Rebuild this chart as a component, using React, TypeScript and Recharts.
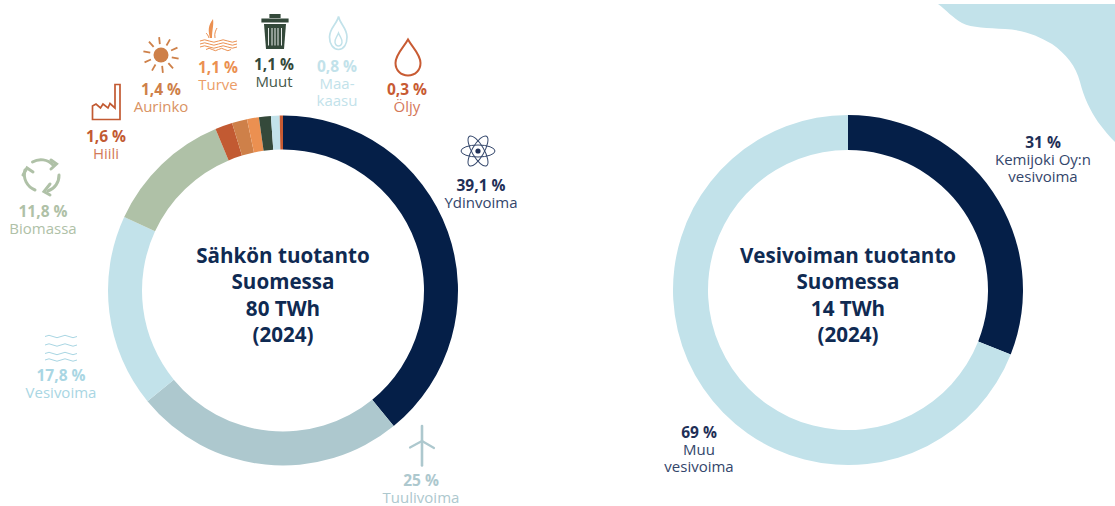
import React from "react";
import { PieChart, Pie, Cell } from "recharts";

const W = 1115;
const H = 506;
const FONT = "'Open Sans', 'Noto Sans', sans-serif";

// Electricity production
const prodNames = ["Ydinvoima", "Tuulivoima", "Vesivoima", "Biomassa", "Hiili", "Aurinko", "Turve", "Muut", "Maakaasu", "Öljy"];
const prodValues = [39.1, 25, 17.8, 11.8, 1.6, 1.4, 1.1, 1.1, 0.8, 0.3];
const prodPercents = ["39,1 %", "25 %", "17,8 %", "11,8 %", "1,6 %", "1,4 %", "1,1 %", "1,1 %", "0,8 %", "0,3 %"];
const prodColors = ["#051F48", "#ADC8CE", "#C2E2EA", "#AFC1A7", "#C25A32", "#CE8049", "#EB9051", "#34493A", "#C2E2EA", "#C85B33"];

// Hydro production
const hydroNames = ["Kemijoki Oy:n vesivoima", "Muu vesivoima"];
const hydroValues = [31, 69];
const hydroColors = ["#051F48", "#C2E2EA"];

const prodData = prodNames.map((name, i) => ({ name, value: prodValues[i] }));
const hydroData = hydroNames.map((name, i) => ({ name, value: hydroValues[i] }));

const titleLeft = ["Sähkön tuotanto", "Suomessa", "80 TWh", "(2024)"];
const titleRight = ["Vesivoiman tuotanto", "Suomessa", "14 TWh", "(2024)"];

const NAVY = "#1F3057";

type L = { x: number; y: number; pct: string; lines: string[]; pc: string; tc: string };
const labels: L[] = [
  { x: 481, y: 191, pct: prodPercents[0], lines: ["Ydinvoima"], pc: NAVY, tc: "#33466B" },
  { x: 421, y: 486, pct: prodPercents[1], lines: ["Tuulivoima"], pc: "#ADC8CE", tc: "#ADC8CE" },
  { x: 61, y: 381, pct: prodPercents[2], lines: ["Vesivoima"], pc: "#A9D6E3", tc: "#A9D6E3" },
  { x: 43, y: 217, pct: prodPercents[3], lines: ["Biomassa"], pc: "#AFC1A7", tc: "#AFC1A7" },
  { x: 106, y: 142, pct: prodPercents[4], lines: ["Hiili"], pc: "#C25A32", tc: "#D27A58" },
  { x: 161, y: 95, pct: prodPercents[5], lines: ["Aurinko"], pc: "#CE8049", tc: "#D99263" },
  { x: 218, y: 73, pct: prodPercents[6], lines: ["Turve"], pc: "#EB9051", tc: "#EB9D68" },
  { x: 274, y: 70, pct: prodPercents[7], lines: ["Muut"], pc: "#34493A", tc: "#45594B" },
  { x: 337, y: 72, pct: prodPercents[8], lines: ["Maa-", "kaasu"], pc: "#C2E2EA", tc: "#C2E2EA" },
  { x: 407, y: 95, pct: prodPercents[9], lines: ["Öljy"], pc: "#C85B33", tc: "#D4785A" },
  { x: 1043, y: 148, pct: "31 %", lines: ["Kemijoki Oy:n", "vesivoima"], pc: NAVY, tc: "#33466B" },
  { x: 699, y: 438, pct: "69 %", lines: ["Muu", "vesivoima"], pc: NAVY, tc: "#33466B" },
];

const Label = ({ x, y, pct, lines, pc, tc }: L) => (
  <g textAnchor="middle" fontFamily={FONT}>
    <text x={x} y={y} fontSize={15.5} fontWeight={700} fill={pc}>{pct}</text>
    {lines.map((t, i) => (
      <text key={i} x={x} y={y + 16.5 + i * 17} fontSize={15} fill={tc}>{t}</text>
    ))}
  </g>
);

const Title = ({ cx, lines }: { cx: number; lines: string[] }) => (
  <g textAnchor="middle" fontFamily={FONT} fontSize={20.6} fontWeight={700} fill="#0F2A52">
    {lines.map((t, i) => (
      <text key={i} x={cx} y={263 + i * 26.3}>{t}</text>
    ))}
  </g>
);

const wave = (x: number, y: number, w: number) => {
  const s = w / 4;
  return `M${x},${y} q${s / 2},-2.4 ${s},0 t${s},0 t${s},0 t${s},0`;
};

const Icons = () => (
  <g fill="none">
    {/* factory */}
    <path d="M92.500,106 L92.500,119.500 L120,119.500 L120,84.500 L115,84.500 L115,108 L110,103.500 L108,108 L103,104 L100.500,108 L96,104 Z" stroke="#C25A32" strokeWidth={1.7} />
    {/* sun */}
    <circle cx={161} cy={55} r={7.5} fill="#CE8049" />
    {[0, 36, 72, 108, 144, 180, 216, 252, 288, 324].map((a) => (
      <line key={a} x1={161 + 11 * Math.cos(((a + 12) * Math.PI) / 180)} y1={55 + 11 * Math.sin(((a + 12) * Math.PI) / 180)} x2={161 + 18 * Math.cos(((a + 12) * Math.PI) / 180)} y2={55 + 18 * Math.sin(((a + 12) * Math.PI) / 180)} stroke="#CE8049" strokeWidth={1.8} />
    ))}
    {/* peat */}
    <path d="M210,38 C208,30 208,26 213,19 C214,25 212,30 212,38 Z" fill="#EB9051" />
    <path d="M215,38 C214,33 216,30 217,28 M209,38 C208,35 207,34 206,33" stroke="#EB9051" strokeWidth={1} />
    {[41, 44, 47, 49.5].map((y, i) => (
      <path key={y} d={wave(200 + (i === 3 ? 6 : 0), y, i === 3 ? 25 : 37)} stroke="#EB9051" strokeWidth={1} />
    ))}
    {/* trash */}
    <path d="M262,19 h26 v3 h-26 Z M270,18 v-3.500 h10 v3.500" fill="#34493A" stroke="#34493A" strokeWidth={1.2} />
    <path d="M264,24 h22 l-2,25 h-18 Z" fill="#34493A" />
    {[268.5, 272, 275, 278, 281.5].map((x) => (
      <line key={x} x1={x} y1={28} x2={x} y2={45.5} stroke="#FFFFFF" strokeWidth={0.9} />
    ))}
    {/* flame */}
    <path d="M338.500,16.500 C337,24 329.500,28 329.500,37 C329.500,44 333,49 338.500,49.500 C344,49 347,44 347,37 C347,28 340,24 338.500,16.500 Z" stroke="#C2E2EA" strokeWidth={1.7} />
    <path d="M338.500,33 C337,37 334.500,39 335,42.500 C335.500,45 337,46 338.500,46 C340,46 341.500,45 342,42.500 C342.500,39 340,37 338.500,33 Z" stroke="#C2E2EA" strokeWidth={1.4} />
    {/* drop */}
    <path d="M408,39.500 C404,47 395.500,54 395.500,63 C395.500,70.500 401,75.500 408,75.500 C415,75.500 420.500,70.500 420.500,63 C420.500,54 412,47 408,39.500 Z" stroke="#C85B33" strokeWidth={2} />
    {/* atom */}
    <g stroke="#33466B" strokeWidth={1}>
      <ellipse cx={478} cy={151} rx={17} ry={6} />
      <ellipse cx={478} cy={151} rx={17} ry={6} transform="rotate(60 478 151)" />
      <ellipse cx={478} cy={151} rx={17} ry={6} transform="rotate(-60 478 151)" />
    </g>
    <circle cx={478} cy={151} r={2.6} fill="#1F3057" />
    {/* recycle */}
    <g stroke="#AFC1A7" strokeWidth={3} strokeLinecap="round">
      <path d="M32.500,162 A16.500,16.500 0 0 1 53,165" />
      <path d="M59,175 A16.500,16.500 0 0 1 48,191" />
      <path d="M35,190 A16.500,16.500 0 0 1 25,170" />
      <path d="M51,160 L56.500,164 L51,169" />
      <path d="M50,184 L44,191.500 L50,195" />
      <path d="M23,175 L27,168 L33,172" />
    </g>
    {/* waves */}
    {[336.5, 345, 353.5, 360].map((y) => (
      <path key={y} d={wave(45, y, 32)} stroke="#A9D6E3" strokeWidth={1} />
    ))}
    {/* wind turbine */}
    <g stroke="#ADC8CE" strokeLinecap="round">
      <line x1={422} y1={426} x2={422} y2={465.5} strokeWidth={2.6} />
      <path d="M422,441 L410,447.500 M422,441 L434,448" strokeWidth={2.2} />
    </g>
  </g>
);

export default function App() {
  return (
    <div style={{ position: "absolute", left: 0, top: 0, width: W, height: H, background: "#FFFFFF", overflow: "hidden" }}>
      <svg width={W} height={H} style={{ position: "absolute", left: 0, top: 0 }}>
        <path d="M938,4 C946,10 953,18 962,23 C972,28 988,28 1005,29 C1025,30 1038,36 1052,44 C1066,54 1076,66 1080,82 C1084,98 1090,110 1098,122 C1104,130 1110,137 1115,142 L1115,4 Z" fill="#C2E2EA" />
      </svg>
      <div style={{ position: "absolute", left: 0, top: 0 }}>
        <PieChart width={W} height={H} margin={{ top: 0, right: 0, bottom: 0, left: 0 }}>
          <Pie data={prodData} dataKey="value" nameKey="name" cx={283} cy={290.5} innerRadius={141} outerRadius={175} startAngle={90} endAngle={-270} stroke="none" isAnimationActive={false}>
            {prodData.map((d, i) => <Cell key={d.name} fill={prodColors[i]} />)}
          </Pie>
          <Pie data={hydroData} dataKey="value" nameKey="name" cx={848} cy={290} innerRadius={140} outerRadius={175} startAngle={90} endAngle={-270} stroke="none" isAnimationActive={false}>
            {hydroData.map((d, i) => <Cell key={d.name} fill={hydroColors[i]} />)}
          </Pie>
        </PieChart>
      </div>
      <svg width={W} height={H} style={{ position: "absolute", left: 0, top: 0 }}>
        <Title cx={283} lines={titleLeft} />
        <Title cx={848} lines={titleRight} />
        <Icons />
        {labels.map((l) => <Label key={l.pct + l.x} {...l} />)}
      </svg>
    </div>
  );
}
